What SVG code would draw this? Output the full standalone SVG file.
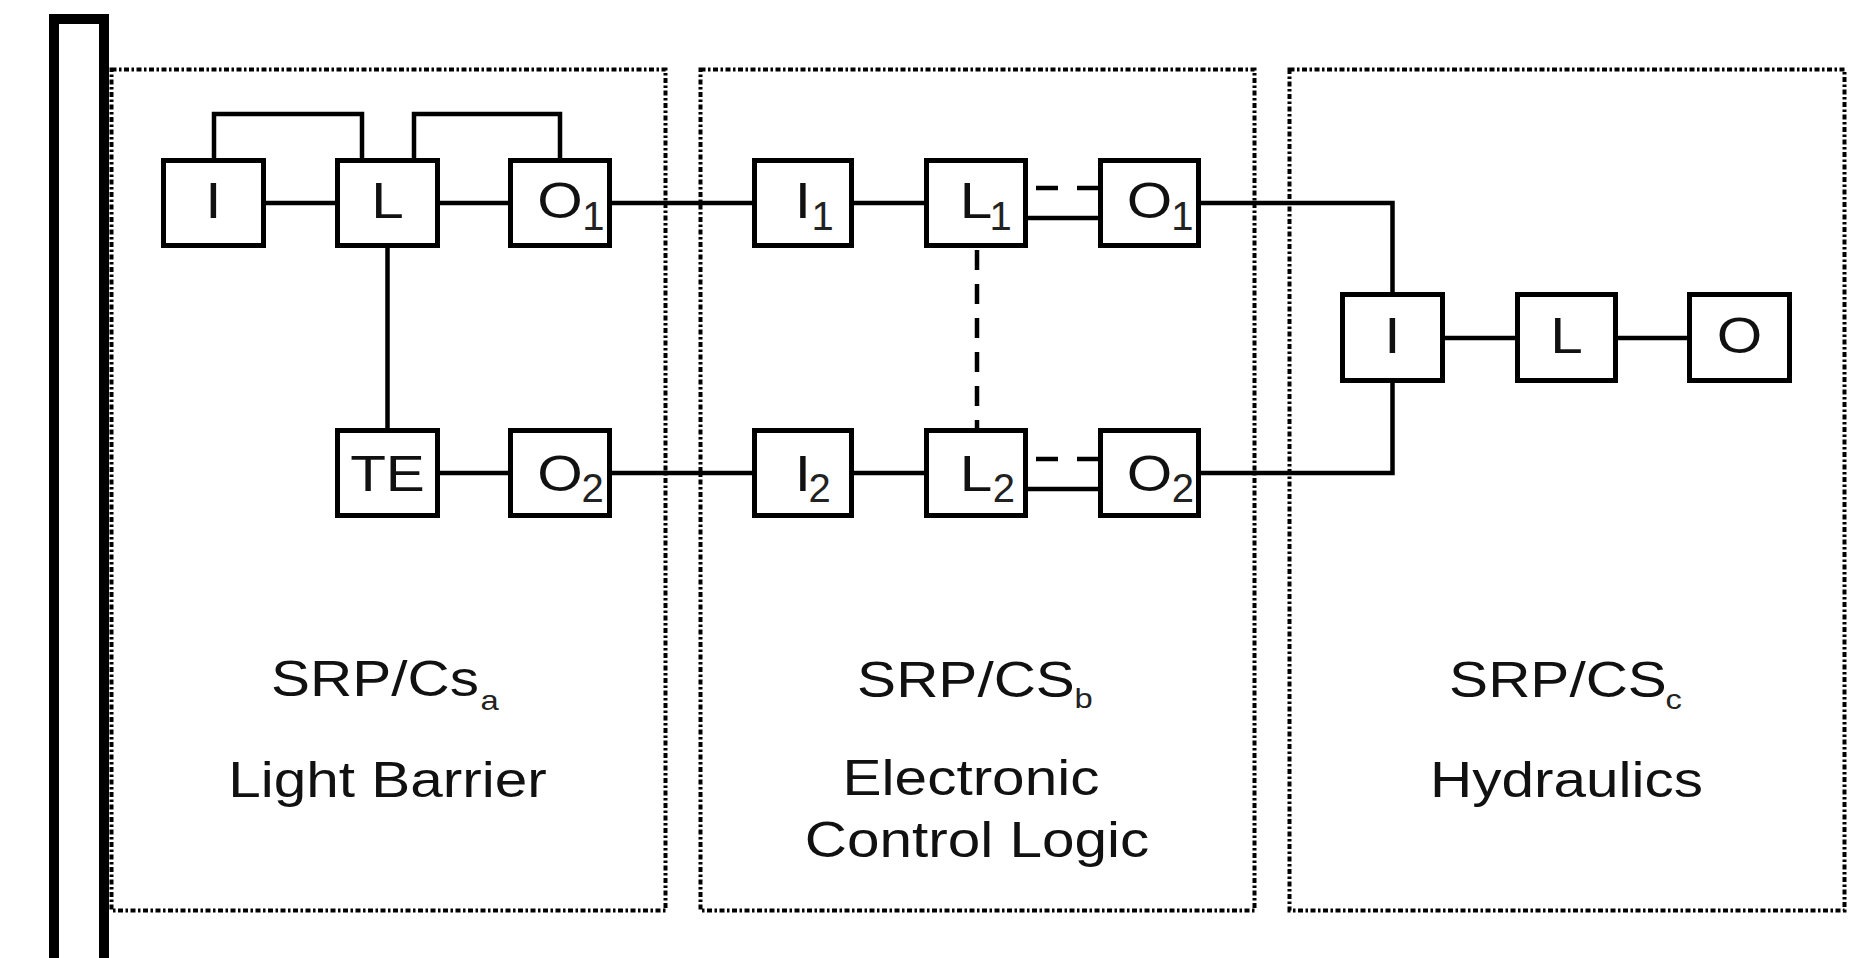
<svg xmlns="http://www.w3.org/2000/svg" width="1865" height="958" viewBox="0 0 1865 958">
  <style>
    .frame { fill: none; stroke: #000; stroke-width: 10; }
    .zone { fill: none; stroke: #000; stroke-width: 4; stroke-dasharray: 5 2.5 2.5 2.5; }
    .box { fill: #fff; stroke: #000; stroke-width: 5; }
    .wire { fill: none; stroke: #000; stroke-width: 4.5; }
    .dash-h { fill: none; stroke: #000; stroke-width: 4.5; stroke-dasharray: 22 19; }
    .dash-v { fill: none; stroke: #000; stroke-width: 4.5; stroke-dasharray: 20 14; }
    .lbl { font-family: "Liberation Sans", Arial, sans-serif; font-size: 50px; fill: #111; text-anchor: middle; }
    .sub { font-family: "Liberation Sans", Arial, sans-serif; font-size: 40px; fill: #222; }
    .cap { font-family: "Liberation Sans", Arial, sans-serif; font-size: 50px; fill: #111; text-anchor: middle; }
    .capsub { font-family: "Liberation Sans", Arial, sans-serif; font-size: 28px; fill: #222; }
  </style>
  <rect width="1865" height="958" fill="#fff"/>

  <!-- outer thick frame on the left, open past the bottom edge -->
  <rect class="frame" x="54" y="19" width="50" height="1000"/>

  <!-- subsystem zones -->
  <g id="zone-a">
    <rect class="zone" x="111.5" y="69.5" width="554" height="841"/>
    <text class="cap" transform="translate(375,696) scale(1.17,1)">SRP/Cs</text>
    <text class="capsub" transform="translate(480.5,710) scale(1.17,1)">a</text>
    <text class="cap" transform="translate(387.5,797) scale(1.17,1)">Light Barrier</text>
  </g>
  <g id="zone-b">
    <rect class="zone" x="700.5" y="69.5" width="554" height="841"/>
    <text class="cap" transform="translate(966,697) scale(1.17,1)">SRP/CS</text>
    <text class="capsub" transform="translate(1074.5,708) scale(1.17,1)">b</text>
    <text class="cap" transform="translate(971,795) scale(1.17,1)">Electronic</text>
    <text class="cap" transform="translate(977,857) scale(1.17,1)">Control Logic</text>
  </g>
  <g id="zone-c">
    <rect class="zone" x="1289.5" y="69.5" width="555" height="841"/>
    <text class="cap" transform="translate(1558,697) scale(1.17,1)">SRP/CS</text>
    <text class="capsub" transform="translate(1665.5,709) scale(1.17,1)">c</text>
    <text class="cap" transform="translate(1566.5,797) scale(1.17,1)">Hydraulics</text>
  </g>

  <!-- connectors -->
  <g id="connectors">
    <!-- light barrier, channel 1 -->
    <path class="wire" d="M214 160 V114 H362 V160"/>
    <path class="wire" d="M414 160 V114 H560 V160"/>
    <line class="wire" x1="266" y1="203" x2="335" y2="203"/>
    <line class="wire" x1="440" y1="203" x2="508" y2="203"/>
    <line class="wire" x1="387.5" y1="248" x2="387.5" y2="429"/>
    <!-- light barrier, channel 2 -->
    <line class="wire" x1="440" y1="473" x2="508" y2="473"/>
    <!-- into control logic -->
    <line class="wire" x1="612" y1="203" x2="752" y2="203"/>
    <line class="wire" x1="612" y1="473" x2="752" y2="473"/>
    <line class="wire" x1="854" y1="203" x2="924" y2="203"/>
    <line class="wire" x1="854" y1="473" x2="924" y2="473"/>
    <line class="dash-h" x1="1036" y1="188" x2="1098" y2="188"/>
    <line class="wire" x1="1028" y1="218" x2="1098" y2="218"/>
    <line class="dash-h" x1="1036" y1="459" x2="1098" y2="459"/>
    <line class="wire" x1="1028" y1="489" x2="1098" y2="489"/>
    <line class="dash-v" x1="977" y1="250" x2="977" y2="429"/>
    <!-- into hydraulics -->
    <path class="wire" d="M1201 203 H1392.5 V292"/>
    <path class="wire" d="M1201 473 H1392.5 V383"/>
    <line class="wire" x1="1445" y1="338" x2="1515" y2="338"/>
    <line class="wire" x1="1618" y1="338" x2="1687" y2="338"/>
  </g>

  <!-- light barrier nodes -->
  <g id="a-I">
    <rect class="box" x="163.5" y="160.5" width="100" height="85"/>
    <text class="lbl" transform="translate(213.5,218) scale(1.17,1)">I</text>
  </g>
  <g id="a-L">
    <rect class="box" x="337.5" y="160.5" width="100" height="85"/>
    <text class="lbl" transform="translate(387.5,218) scale(1.17,1)">L</text>
  </g>
  <g id="a-O1">
    <rect class="box" x="510.5" y="160.5" width="99" height="85"/>
    <text class="lbl" transform="translate(560,218) scale(1.17,1)">O</text>
    <text class="sub" x="582.3" y="230">1</text>
  </g>
  <g id="a-TE">
    <rect class="box" x="337.5" y="430.5" width="100" height="85"/>
    <text class="lbl" transform="translate(387.5,491) scale(1.17,1)">TE</text>
  </g>
  <g id="a-O2">
    <rect class="box" x="510.5" y="430.5" width="99" height="85"/>
    <text class="lbl" transform="translate(560,491) scale(1.17,1)">O</text>
    <text class="sub" x="581.4" y="502">2</text>
  </g>

  <!-- control logic nodes -->
  <g id="b-I1">
    <rect class="box" x="754.5" y="160.5" width="97" height="85"/>
    <text class="lbl" transform="translate(803,218) scale(1.17,1)">I</text>
    <text class="sub" x="811.6" y="230">1</text>
  </g>
  <g id="b-L1">
    <rect class="box" x="926.5" y="160.5" width="99" height="85"/>
    <text class="lbl" transform="translate(976,218) scale(1.17,1)">L</text>
    <text class="sub" x="989.6" y="230">1</text>
  </g>
  <g id="b-O1">
    <rect class="box" x="1100.5" y="160.5" width="98" height="85"/>
    <text class="lbl" transform="translate(1149.5,218) scale(1.17,1)">O</text>
    <text class="sub" x="1171.3" y="230">1</text>
  </g>
  <g id="b-I2">
    <rect class="box" x="754.5" y="430.5" width="97" height="85"/>
    <text class="lbl" transform="translate(803,491) scale(1.17,1)">I</text>
    <text class="sub" x="808.4" y="502">2</text>
  </g>
  <g id="b-L2">
    <rect class="box" x="926.5" y="430.5" width="99" height="85"/>
    <text class="lbl" transform="translate(976,491) scale(1.17,1)">L</text>
    <text class="sub" x="992.8" y="502">2</text>
  </g>
  <g id="b-O2">
    <rect class="box" x="1100.5" y="430.5" width="98" height="85"/>
    <text class="lbl" transform="translate(1149.5,491) scale(1.17,1)">O</text>
    <text class="sub" x="1171.8" y="502">2</text>
  </g>

  <!-- hydraulics nodes -->
  <g id="c-I">
    <rect class="box" x="1342.5" y="294.5" width="100" height="86"/>
    <text class="lbl" transform="translate(1392.5,353) scale(1.17,1)">I</text>
  </g>
  <g id="c-L">
    <rect class="box" x="1517.5" y="294.5" width="98" height="86"/>
    <text class="lbl" transform="translate(1566.5,353) scale(1.17,1)">L</text>
  </g>
  <g id="c-O">
    <rect class="box" x="1689.5" y="294.5" width="100" height="86"/>
    <text class="lbl" transform="translate(1739.5,353) scale(1.17,1)">O</text>
  </g>
</svg>
